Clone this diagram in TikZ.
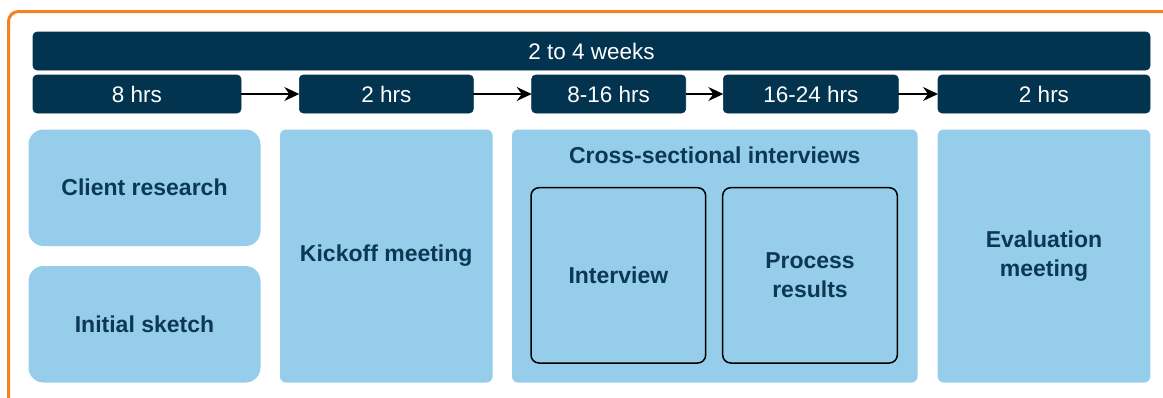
\documentclass[tikz,border=0pt]{standalone}
\usepackage{fontspec}
\setmainfont{Liberation Sans}
\usetikzlibrary{arrows.meta}

\definecolor{barnavy}{HTML}{02344F}
\definecolor{boxblue}{HTML}{96CDEA}
\definecolor{labelnavy}{HTML}{0B3954}
\definecolor{frameorange}{HTML}{F5821F}

\tikzset{
  timebar/.style={rectangle, rounded corners=4pt, fill=barnavy, draw=barnavy,
    line width=0.6pt, text=white, inner sep=0pt, outer sep=0pt,
    minimum height=38pt, font=\fontsize{22.5}{29}\selectfont},
  phasebox/.style={rectangle, rounded corners=6pt, fill=boxblue, draw=none,
    text=labelnavy, inner sep=0pt, outer sep=0pt, align=center,
    font=\fontsize{23}{29}\selectfont\bfseries},
  softbox/.style={phasebox, rounded corners=15pt},
  stepbox/.style={phasebox, draw=black, line width=1.5pt, rounded corners=8pt},
  phaselabel/.style={text=labelnavy, inner sep=0pt,
    font=\fontsize{23}{29}\selectfont\bfseries},
  flow/.style={line width=1.4pt, draw=black,
    -{Stealth[length=15pt, width=14pt, inset=5pt]}}
}

\begin{document}
\begin{tikzpicture}[x=1pt, y=-1pt]
  \useasboundingbox (0,0) rectangle (1163,397);

  % outer frame, running off the right and bottom edges
  \begin{scope}
    \clip (0,0) rectangle (1163,397);
    \draw[frameorange, line width=3pt, rounded corners=10pt]
      (8.5,11.5) rectangle (1185,420);
  \end{scope}

  % overall duration
  \node[timebar, minimum width=1117pt] (weeks) at (591.5,51) {2 to 4 weeks};

  % effort per phase
  \node[timebar, minimum width=208pt] (h1) at (137,94) {8 hrs};
  \node[timebar, minimum width=174pt] (h2) at (386.3,94) {2 hrs};
  \node[timebar, minimum width=154pt] (h3) at (608.7,94) {8-16 hrs};
  \node[timebar, minimum width=175pt] (h4) at (810.8,94) {16-24 hrs};
  \node[timebar, minimum width=212pt] (h5) at (1044,94) {2 hrs};

  \draw[flow] (h1) -- (h2);
  \draw[flow] (h2) -- (h3);
  \draw[flow] (h3) -- (h4);
  \draw[flow] (h4) -- (h5);

  % phases
  \node[softbox, minimum width=232pt, minimum height=116.5pt]
    (research) at (144.5,187.75) {Client research};
  \node[softbox, minimum width=232pt, minimum height=116.5pt]
    (sketch) at (144.5,324.25) {Initial sketch};
  \node[phasebox, minimum width=212.5pt, minimum height=253pt]
    (kickoff) at (386.25,256) {Kickoff meeting};
  \node[phasebox, minimum width=405.5pt, minimum height=253pt]
    (cross) at (714.75,256) {};
  \node[phaselabel] (crosstitle) at (714.75,155) {Cross-sectional interviews};
  \node[stepbox, minimum width=174.7pt, minimum height=175.3pt]
    (interview) at (618.35,275.35) {Interview};
  \node[stepbox, minimum width=174.6pt, minimum height=175.3pt]
    (process) at (810,275.35) {Process\\results};
  \node[phasebox, minimum width=212.6pt, minimum height=253pt]
    (evaluation) at (1044,256) {Evaluation\\meeting};
\end{tikzpicture}
\end{document}
